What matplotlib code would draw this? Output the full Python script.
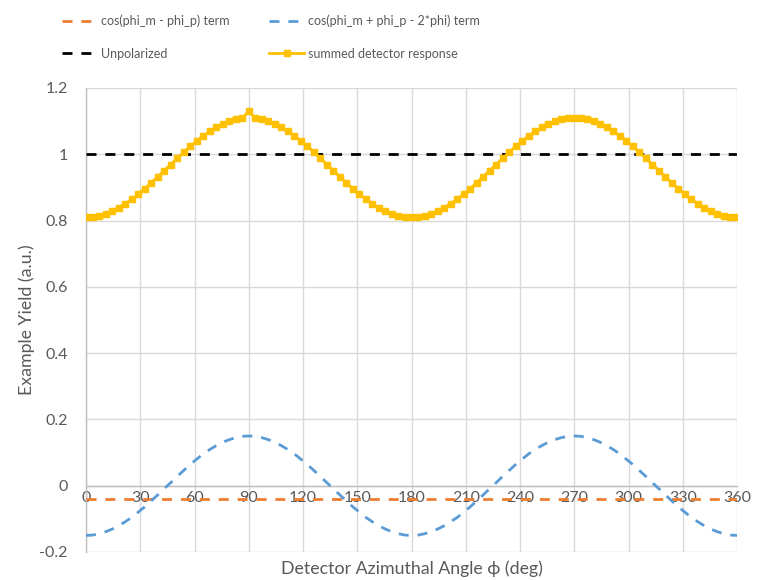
import matplotlib
matplotlib.use("Agg")
import matplotlib.pyplot as plt

plt.rcParams['font.family'] = ['Lato', 'DejaVu Sans']

# detector azimuthal angle samples (deg)
angles = [i * 3.6 for i in range(101)]

# cos(phi_m + phi_p - 2*phi) term
term_sum = [
    -0.150, -0.149, -0.145, -0.139, -0.131, -0.121, -0.109, -0.096, -0.080, -0.064,
    -0.046, -0.028, -0.009, 0.009, 0.028, 0.046, 0.064, 0.080, 0.096, 0.109,
    0.121, 0.131, 0.139, 0.145, 0.149, 0.150, 0.149, 0.145, 0.139, 0.131,
    0.121, 0.109, 0.096, 0.080, 0.064, 0.046, 0.028, 0.009, -0.009, -0.028,
    -0.046, -0.064, -0.080, -0.096, -0.109, -0.121, -0.131, -0.139, -0.145, -0.149,
    -0.150, -0.149, -0.145, -0.139, -0.131, -0.121, -0.109, -0.096, -0.080, -0.064,
    -0.046, -0.028, -0.009, 0.009, 0.028, 0.046, 0.064, 0.080, 0.096, 0.109,
    0.121, 0.131, 0.139, 0.145, 0.149, 0.150, 0.149, 0.145, 0.139, 0.131,
    0.121, 0.109, 0.096, 0.080, 0.064, 0.046, 0.028, 0.009, -0.009, -0.028,
    -0.046, -0.064, -0.080, -0.096, -0.109, -0.121, -0.131, -0.139, -0.145, -0.149,
    -0.150,
]

# cos(phi_m - phi_p) term (constant)
term_diff = [-0.04] * 101

# unpolarized yield
unpolarized = [1.0] * 101

# summed detector response
summed = [
    0.810, 0.811, 0.815, 0.821, 0.829, 0.839, 0.851, 0.864, 0.880, 0.896,
    0.914, 0.932, 0.951, 0.969, 0.988, 1.006, 1.024, 1.040, 1.056, 1.069,
    1.081, 1.091, 1.099, 1.105, 1.109, 1.130, 1.109, 1.105, 1.099, 1.091,
    1.081, 1.069, 1.056, 1.040, 1.024, 1.006, 0.988, 0.969, 0.951, 0.932,
    0.914, 0.896, 0.880, 0.864, 0.851, 0.839, 0.829, 0.821, 0.815, 0.811,
    0.810, 0.811, 0.815, 0.821, 0.829, 0.839, 0.851, 0.864, 0.880, 0.896,
    0.914, 0.932, 0.951, 0.969, 0.988, 1.006, 1.024, 1.040, 1.056, 1.069,
    1.081, 1.091, 1.099, 1.105, 1.109, 1.110, 1.109, 1.105, 1.099, 1.091,
    1.081, 1.069, 1.056, 1.040, 1.024, 1.006, 0.988, 0.969, 0.951, 0.932,
    0.914, 0.896, 0.880, 0.864, 0.851, 0.839, 0.829, 0.821, 0.815, 0.811,
    0.810,
]

x_ticks = [0, 30, 60, 90, 120, 150, 180, 210, 240, 270, 300, 330, 360]
y_ticks = [-0.2, 0, 0.2, 0.4, 0.6, 0.8, 1.0, 1.2]
y_tick_labels = ["-0.2", "0", "0.2", "0.4", "0.6", "0.8", "1", "1.2"]

TEXT = "#595959"
GRID = "#d9d9d9"
AXIS = "#bfbfbf"

fig = plt.figure(figsize=(7.58, 5.80), dpi=100)
ax = fig.add_axes([0.1135, 0.0483, 0.8588, 0.80])

dash = (3.6, 3.2)
l_diff, = ax.plot(angles, term_diff, color="#ED7D31", lw=2.0, dashes=dash,
                  label="cos(phi_m - phi_p) term", zorder=3)
l_sum, = ax.plot(angles, term_sum, color="#5B9BD5", lw=2.0, dashes=dash,
                 label="cos(phi_m + phi_p - 2*phi) term", zorder=3)
l_unp, = ax.plot(angles, unpolarized, color="black", lw=2.0, dashes=dash,
                 label="Unpolarized", zorder=3)
l_tot, = ax.plot(angles, summed, color="#FFC000", lw=2.0, marker="s",
                 markersize=5, label="summed detector response", zorder=4)

ax.set_xlim(0, 360)
ax.set_ylim(-0.2, 1.2)
ax.set_xticks(x_ticks)
ax.set_yticks(y_ticks)
ax.set_yticklabels(y_tick_labels)

ax.grid(True, color=GRID, lw=1.0, zorder=0)
ax.set_axisbelow(True)

for s in ("top", "right"):
    ax.spines[s].set_visible(False)
ax.spines["left"].set_color(AXIS)
ax.spines["left"].set_linewidth(1.0)
ax.spines["bottom"].set_position(("data", 0))
ax.spines["bottom"].set_color(AXIS)
ax.spines["bottom"].set_linewidth(1.0)

ax.tick_params(axis="both", length=0, labelsize=11.5, labelcolor=TEXT)
ax.tick_params(axis="x", pad=4)
ax.tick_params(axis="y", pad=13)

ax.set_xlabel("Detector Azimuthal Angle \u03d5 (deg)", fontsize=12.8, color=TEXT)
ax.xaxis.set_label_coords(0.5, -0.018)
ax.set_ylabel("Example Yield (a.u.)", fontsize=12.8, color=TEXT)
ax.yaxis.set_label_coords(-0.078, 0.5)

fig.legend(handles=[l_diff, l_unp, l_sum, l_tot], ncol=2, frameon=False,
           loc="upper left", bbox_to_anchor=(0.067, 0.994), fontsize=9,
           labelcolor=TEXT, handlelength=2.8, columnspacing=3.2,
           handletextpad=0.3, labelspacing=1.64)

fig.savefig("out.png", dpi=100)
